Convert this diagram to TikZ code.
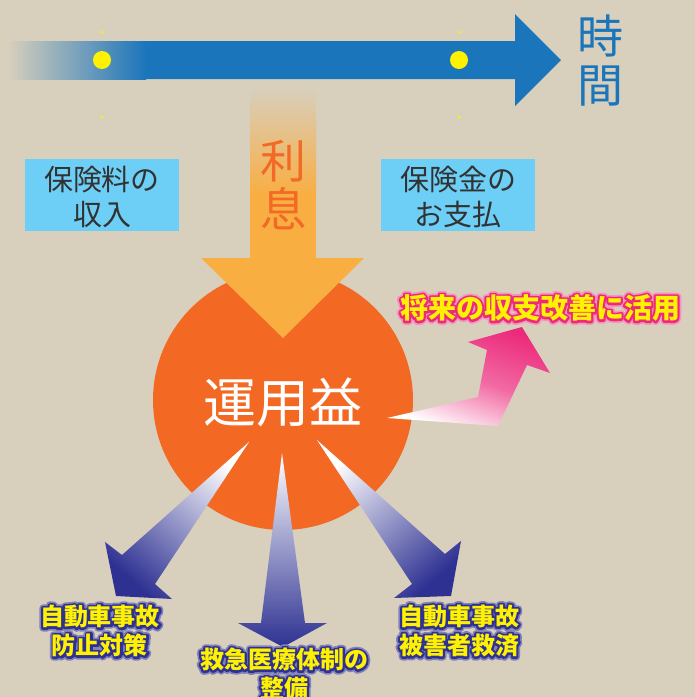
\documentclass[tikz,border=0pt]{standalone}
\usepackage{fontspec}
\newfontfamily\jp{Noto Sans CJK JP}
\definecolor{bg}{RGB}{216,207,189}
\definecolor{tblue}{RGB}{27,117,187}
\definecolor{dotyellow}{RGB}{255,242,0}
\definecolor{colorange}{RGB}{249,174,66}
\definecolor{rikitext}{RGB}{242,106,38}
\definecolor{cyanbox}{RGB}{109,207,246}
\definecolor{boxgray}{RGB}{50,50,50}
\definecolor{circ}{RGB}{243,105,35}
\definecolor{pinkc}{RGB}{236,42,123}
\definecolor{pinkglow}{RGB}{242,150,190}
\definecolor{dblue}{RGB}{46,49,146}
\definecolor{blueglow}{RGB}{130,130,185}
% stroked (outlined) text: colour, line width, text
\newcommand{\strk}[3]{{\color{#1}\special{pdf:literal 1 j #2 w 2 Tr}#3\special{pdf:literal 0 Tr}}}
\newcommand{\halo}[3]{{\rlap{\strk{#1}{7.6}{#3}}\rlap{\strk{#2}{4.2}{#3}}#3}}
\tikzset{
  boxfill/.style={fill=cyanbox},
  boxtext/.style={font=\jp\fontsize{29}{35}\selectfont, text=boxgray, align=center},
  bluelabel/.style={font=\jp\bfseries\fontsize{24}{29}\selectfont, text=dotyellow, align=center},
  bluearrow/.style={top color=white, bottom color=dblue},
}
\begin{document}
\begin{tikzpicture}[x=1pt,y=-1pt]
\useasboundingbox (0,0) rectangle (695,697);
\fill[bg] (0,0) rectangle (695,697);
% time arrow
\shade[left color=bg, right color=tblue] (8,41) rectangle (146,79);
\fill[tblue] (145,41) -- (515,41) -- (515,14) -- (561,60) -- (515,106) -- (515,79) -- (145,79) -- cycle;
\fill[dotyellow] (102,60) circle (9);
\fill[dotyellow] (459,60) circle (9);
\foreach \x in {102,459}{
  \fill[dotyellow] (\x,32) circle (1.5);
  \fill[dotyellow] (\x,117) circle (1.5);
}
\node[font=\jp\fontsize{46}{49}\selectfont, text=tblue, align=center] (jikan) at (600,61) {時\\間};
% interest column
\shade[top color=bg, bottom color=colorange] (250,88) rectangle (316,195);
\fill[colorange] (250,194) rectangle (316,259);
\node[font=\jp\fontsize{46}{48}\selectfont, text=rikitext, align=center] (risoku) at (283,185) {利\\息};
% boxes
\fill[boxfill] (25,159) rectangle (179,231);
\node[boxtext] (inc) at (102,197) {保険料の\\収入};
\fill[boxfill] (381,159) rectangle (535,231);
\node[boxtext] (pay) at (458,197) {保険金の\\お支払};
% circle
\fill[circ] (283,400) circle (130);
\fill[colorange] (201,258) -- (364,258) -- (283,338) -- cycle;
\node[font=\jp\fontsize{53}{55}\selectfont, text=white] (unyo) at (283,402) {運用益};
% pink arrow
\shade[top color=pinkc, bottom color=white, middle color=pinkc!70!white, shading angle=-20]
  (387,418) -- (478,397) -- (487,350) -- (468,342) -- (522,327) -- (550,373) -- (527,365) -- (498,426) -- cycle;
\node[font=\jp\bfseries\fontsize{28}{30}\selectfont, text=dotyellow] (future) at (540,308) {\halo{pinkglow}{pinkc}{将来の収支改善に活用}};
% blue arrows
\shade[bluearrow, shading angle=-41] (249,442) -- (155,584) -- (172,599) -- (116,596) -- (105,542) -- (122,555) -- cycle;
\shade[bluearrow] (282,453) -- (305,623) -- (327,623) -- (283,647) -- (238,623) -- (261,623) -- cycle;
\shade[bluearrow, shading angle=41] (317,440) -- (445,554) -- (461,541) -- (451,596) -- (394,598) -- (412,584) -- cycle;
\node[bluelabel] (prev) at (100,631) {\halo{blueglow}{dblue}{自動車事故}\\\halo{blueglow}{dblue}{防止対策}};
\node[bluelabel] (emerg) at (284,674) {\halo{blueglow}{dblue}{救急医療体制の}\\\halo{blueglow}{dblue}{整備}};
\node[bluelabel] (relief) at (459,631) {\halo{blueglow}{dblue}{自動車事故}\\\halo{blueglow}{dblue}{被害者救済}};
\end{tikzpicture}
\end{document}
